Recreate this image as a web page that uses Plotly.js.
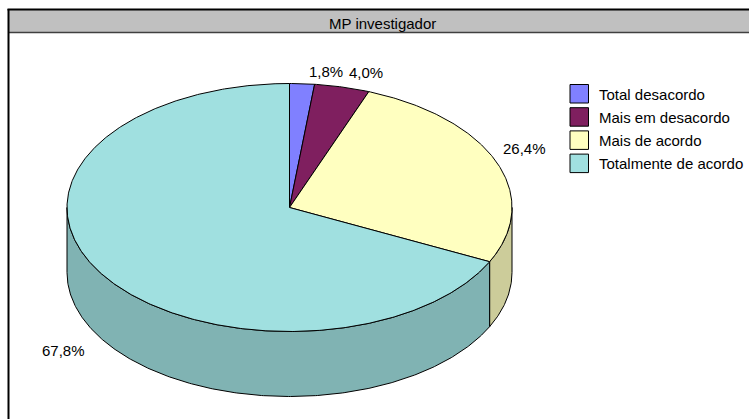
<!DOCTYPE html>
<html>
<head>
<meta charset="utf-8">
<script src="https://cdn.plot.ly/plotly-3.0.1.min.js"></script>
<style>
  html, body { margin: 0; padding: 0; background: #ffffff; }
  #chart { width: 749px; height: 419px; }
</style>
</head>
<body>
<div id="chart"></div>
<script>
// Survey answers for "MP investigador"
const categories = ['Total desacordo', 'Mais em desacordo', 'Mais de acordo', 'Totalmente de acordo'];
const percents = [1.8, 4.0, 26.4, 67.8];
const topColors = ['#8080ff', '#7f1f5f', '#ffffc0', '#a0e0e0'];
const sideColors = ['#6666cc', '#661a4c', '#cccc9a', '#80b3b3'];
const chartTitle = 'MP investigador';

// Geometry of the tilted pie (axis units equal pixels)
const cx = 289.5, cy = 207.5, rx = 222.5, ry = 124, depth = 65;
const FONT = 'Liberation Sans, Arial, sans-serif';
const FS = 15;

function pt(deg, dy) {
  const t = deg * Math.PI / 180;
  return [cx + rx * Math.sin(t), cy - ry * Math.cos(t) + (dy || 0)];
}
function arc(a0, a1, dy) {
  const pts = [];
  const n = Math.max(2, Math.ceil(Math.abs(a1 - a0) / 0.5));
  for (let i = 0; i <= n; i++) pts.push(pt(a0 + (a1 - a0) * i / n, dy));
  return pts;
}

const total = percents.reduce((a, b) => a + b, 0);
const starts = [], ends = [];
let acc = 0;
percents.forEach(v => { starts.push(acc / total * 360); acc += v; ends.push(acc / total * 360); });

const traces = [];

// Visible front wall of each slice
percents.forEach((v, i) => {
  const s0 = Math.max(starts[i], 90), s1 = Math.min(ends[i], 270);
  if (s0 >= s1) return;
  const pts = arc(s0, s1, 0).concat(arc(s1, s0, depth));
  pts.push(pts[0]);
  traces.push({
    type: 'scatter', mode: 'lines', fill: 'toself', name: categories[i],
    x: pts.map(p => p[0]), y: pts.map(p => p[1]),
    fillcolor: sideColors[i], line: { color: '#000000', width: 1 },
    showlegend: false, hoverinfo: 'skip'
  });
});

// Top faces
percents.forEach((v, i) => {
  const pts = [[cx, cy]].concat(arc(starts[i], ends[i], 0));
  pts.push([cx, cy]);
  traces.push({
    type: 'scatter', mode: 'lines', fill: 'toself', name: categories[i],
    x: pts.map(p => p[0]), y: pts.map(p => p[1]),
    fillcolor: topColors[i], line: { color: '#000000', width: 1 },
    showlegend: false, hoverinfo: 'skip'
  });
});

// Percentage labels, placed around the pie
const labelAnchors = [[326, 71], [366, 72], [524, 148], [63, 350]];
const annotations = percents.map((v, i) => ({
  x: labelAnchors[i][0], y: labelAnchors[i][1], xref: 'x', yref: 'y',
  text: v.toFixed(1).replace('.', ',') + '%', showarrow: false,
  font: { family: FONT, size: FS, color: '#000000' }
}));
annotations.push({
  x: 382, y: 23, xref: 'x', yref: 'y', text: chartTitle, showarrow: false,
  font: { family: FONT, size: FS, color: '#000000' }
});

// Frame and title band
const shapes = [
  { type: 'rect', xref: 'x', yref: 'y', x0: 9, x1: 760, y0: 10, y1: 32, fillcolor: '#c0c0c0', line: { width: 0 }, layer: 'below' },
  { type: 'line', xref: 'x', yref: 'y', x0: 9, x1: 760, y0: 32.5, y1: 32.5, line: { color: '#404040', width: 1.5 } },
  { type: 'line', xref: 'x', yref: 'y', x0: 7.5, x1: 760, y0: 9.5, y1: 9.5, line: { color: '#000000', width: 2 } },
  { type: 'line', xref: 'x', yref: 'y', x0: 8.5, x1: 8.5, y0: 9, y1: 430, line: { color: '#000000', width: 2 } }
];

// Legend: colour key squares with category names
const legendLeft = 570, legendTop = 84.5, legendStep = 23.2, keySize = 18.5;
categories.forEach((c, i) => {
  const top = legendTop + i * legendStep;
  shapes.push({
    type: 'rect', xref: 'x', yref: 'y',
    x0: legendLeft, x1: legendLeft + keySize, y0: top, y1: top + keySize,
    fillcolor: topColors[i], line: { color: '#000000', width: 1 }
  });
  annotations.push({
    x: legendLeft + keySize + 8, y: top + keySize / 2 + 0.5, xref: 'x', yref: 'y',
    xanchor: 'left', text: c, showarrow: false,
    font: { family: FONT, size: FS, color: '#000000' }
  });
});

const layout = {
  width: 749, height: 419,
  margin: { l: 0, r: 0, t: 0, b: 0 },
  paper_bgcolor: '#ffffff', plot_bgcolor: '#ffffff',
  xaxis: { range: [0, 749], visible: false, fixedrange: true },
  yaxis: { range: [419, 0], visible: false, fixedrange: true },
  showlegend: false,
  annotations: annotations,
  shapes: shapes,
  hovermode: false
};

Plotly.newPlot('chart', traces, layout, { staticPlot: true, displayModeBar: false });
</script>
</body>
</html>
